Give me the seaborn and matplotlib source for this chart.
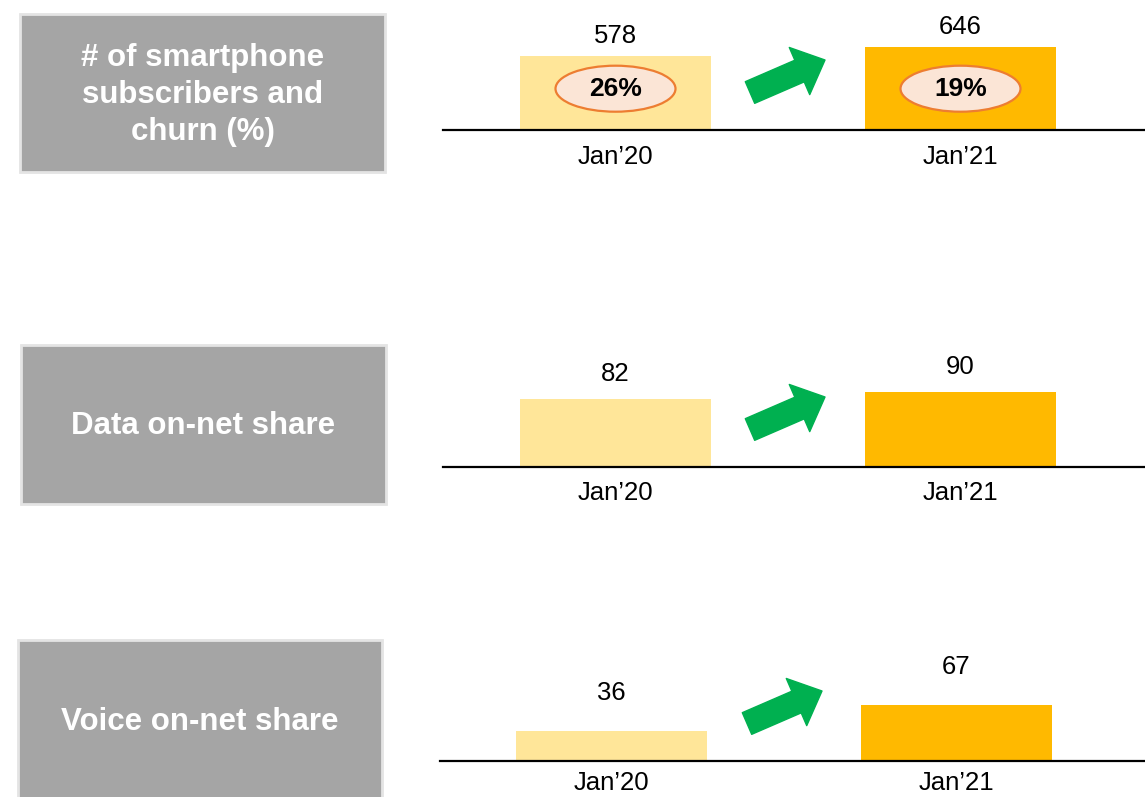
import matplotlib.pyplot as plt
import seaborn as sns
from matplotlib.patches import Rectangle, Ellipse

periods = ['Jan\u201920', 'Jan\u201921']
subscribers = [578, 646]
churn_pct = [26, 19]
data_share = [82, 90]
voice_share = [36, 67]
titles = ['# of smartphone\nsubscribers and\nchurn (%)', 'Data on-net share', 'Voice on-net share']
bar_colors = ['#ffe699', '#ffb900']

sns.set_theme(style='white')
plt.rcParams['font.family'] = ['Liberation Sans', 'DejaVu Sans']

W, H = 1145, 797
fig = plt.figure(figsize=(W / 100, H / 100), dpi=100)


def fx(px):
    return px / W


def fy(py):
    return 1 - py / H


# layout per panel: values, grey box (x0, y0, x1, y1), baseline y, axes left, first bar centre,
# pixels per unit, label offset (px), tick label pad
panels = [
    (subscribers, (20, 14, 385, 172), 130, 443, 615.5, 83 / 646, 20, 11),
    (data_share, (21, 345, 386, 504), 467, 443, 615.5, 0.83, 25, 10),
    (voice_share, (18, 640, 382, 799), 761, 440, 611.5, 0.83, 38, 7),
]
step = 345  # px between bar centres
ax_h = 115

for i, (vals, box, line_y, left, c0, scale, off, pad) in enumerate(panels):
    x0, y0, x1, y1 = box
    fig.add_artist(Rectangle((fx(x0), fy(y1)), (x1 - x0) / W, (y1 - y0) / H,
                             transform=fig.transFigure, facecolor='#a5a5a5',
                             edgecolor='#e4e4e4', linewidth=2))
    fig.text(fx((x0 + x1) / 2), fy((y0 + y1) / 2 + 2), titles[i], ha='center', va='center',
             color='white', fontsize=22.5, fontweight='bold', linespacing=1.32)

    ax = fig.add_axes([fx(left), fy(line_y), 1 - fx(left), ax_h / H])
    ax.set_facecolor('none')
    sns.barplot(x=periods, y=vals, hue=periods, palette=bar_colors, width=191 / step,
                saturation=1, linewidth=0, legend=False, ax=ax)
    ax.set_xlim(-(c0 - left) / step, (W - c0) / step)
    ax.set_ylim(0, ax_h / scale)
    sns.despine(ax=ax, left=True)
    ax.spines['bottom'].set_color('black')
    ax.spines['bottom'].set_linewidth(1.6)
    ax.set_yticks([])
    ax.set_xlabel('')
    ax.set_ylabel('')
    ax.tick_params(axis='x', length=0, pad=pad, labelsize=18.5, labelcolor='black')

    for j, v in enumerate(vals):
        ax.annotate(f'{v}', (j, v), xytext=(0, off * 0.72), textcoords='offset points',
                    ha='center', va='center', fontsize=18.5, color='black')

    # green growth arrow between the bars
    ax.annotate('', xy=(382, 70), xytext=(307, 37.5),
                xycoords='axes pixels', textcoords='axes pixels',
                arrowprops=dict(arrowstyle='simple,head_length=2.0,head_width=3.7,tail_width=1.7',
                                mutation_scale=10, color='#00b050', shrinkA=0, shrinkB=0))

    if i == 0:
        cy = 41.3 / scale
        for j, p in enumerate(churn_pct):
            ax.add_patch(Ellipse((j, cy), 120 / step, 46 / scale, facecolor='#fbe5d6',
                                 edgecolor='#ed7d31', linewidth=1.6))
            ax.text(j, cy, f'{p}%', ha='center', va='center', fontsize=19,
                    fontweight='bold', color='black')

fig.savefig('out.png', dpi=100)
